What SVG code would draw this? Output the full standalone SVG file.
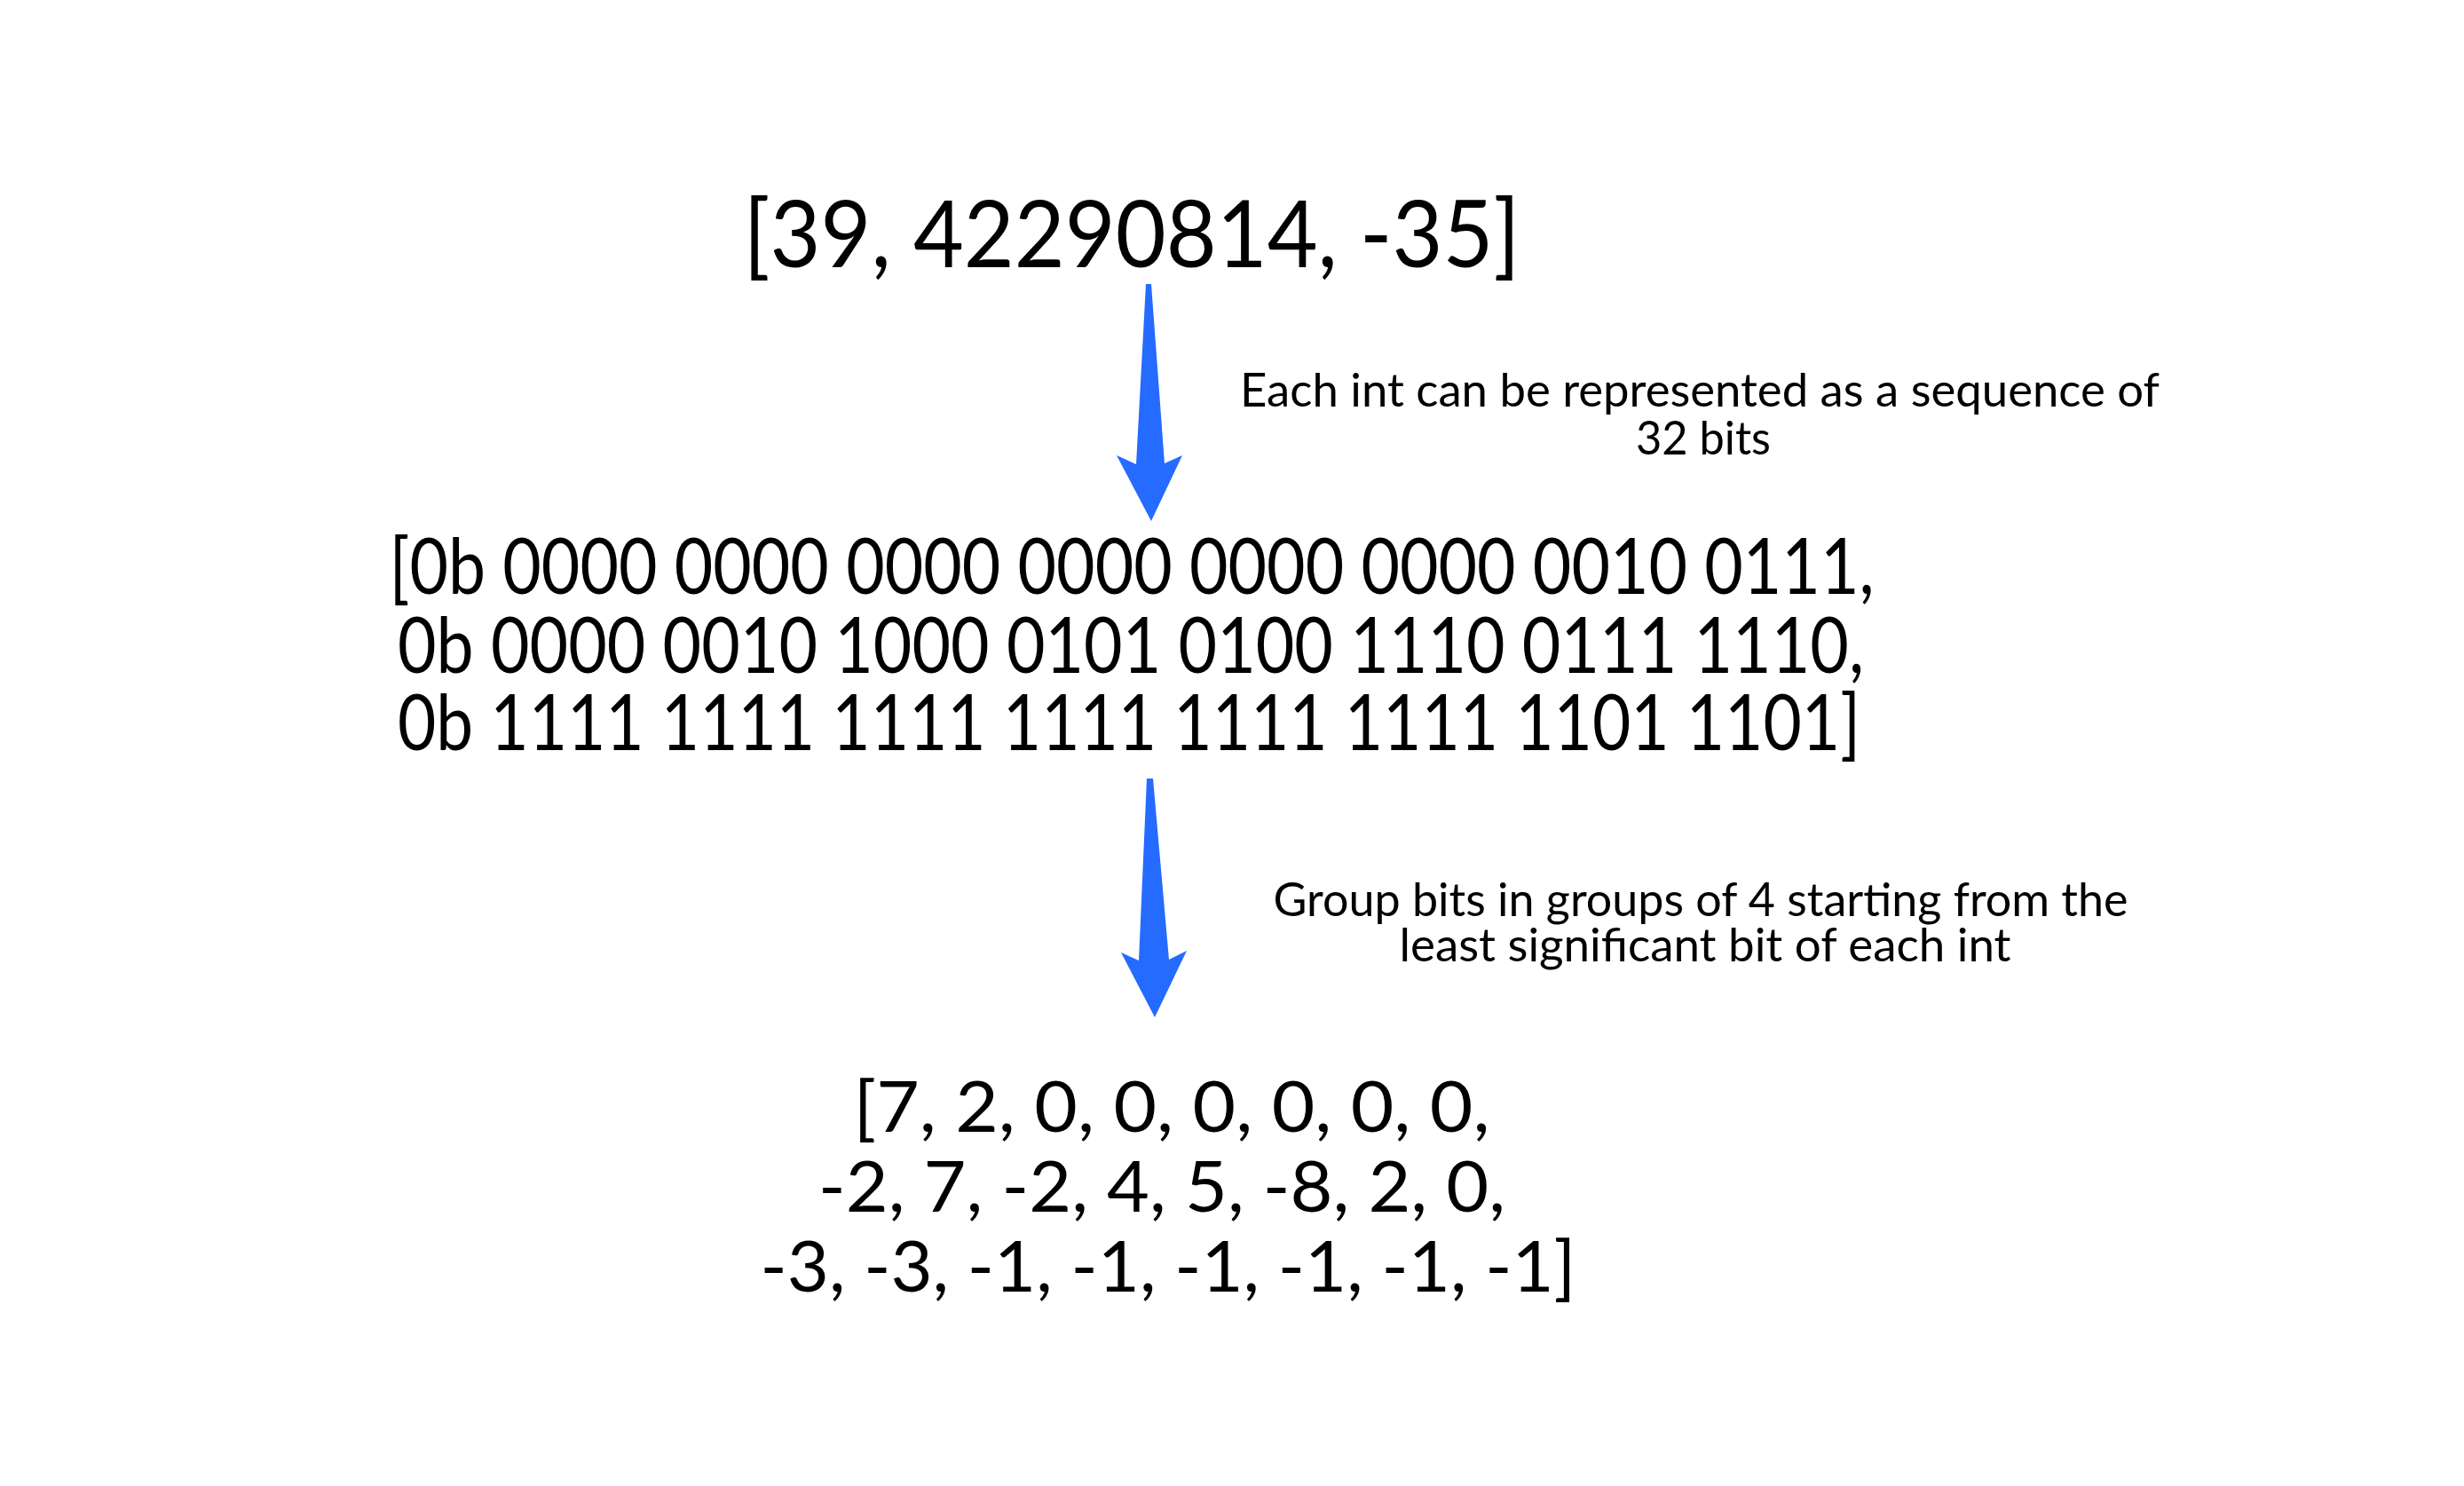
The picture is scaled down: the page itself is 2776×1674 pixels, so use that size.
<svg xmlns="http://www.w3.org/2000/svg" width="2776" height="1674" viewBox="0 0 2776 1674">
<style>
.t{font-family:Lato,"Noto Sans","Liberation Sans",sans-serif;fill:#000;text-anchor:middle}
.big{font-size:104px}
.mid{font-size:87px}
.lst{font-size:80px}
.note{font-size:52px}
.arr{fill:#256BFF}
</style>
<rect width="2776" height="1674" fill="#fff"/>
<g id="node-ints">
<text class="t big" x="1275" y="301" textLength="875" lengthAdjust="spacingAndGlyphs">[39, 42290814, -35]</text>
</g>
<g id="node-bits">
<text class="t mid" x="1275" y="669" textLength="1673" lengthAdjust="spacingAndGlyphs">[0b 0000 0000 0000 0000 0000 0000 0010 0111,</text>
<text class="t mid" x="1274" y="758" textLength="1652" lengthAdjust="spacingAndGlyphs">0b 0000 0010 1000 0101 0100 1110 0111 1110,</text>
<text class="t mid" x="1272" y="845" textLength="1648" lengthAdjust="spacingAndGlyphs">0b 1111 1111 1111 1111 1111 1111 1101 1101]</text>
</g>
<g id="node-groups">
<text class="t lst" x="1320" y="1275" textLength="717" lengthAdjust="spacingAndGlyphs">[7, 2, 0, 0, 0, 0, 0, 0,</text>
<text class="t lst" x="1309" y="1365" textLength="774" lengthAdjust="spacingAndGlyphs">-2, 7, -2, 4, 5, -8, 2, 0,</text>
<text class="t lst" x="1316" y="1455" textLength="919" lengthAdjust="spacingAndGlyphs">-3, -3, -1, -1, -1, -1, -1, -1]</text>
</g>
<g id="connectors">
<polygon class="arr" points="1291,320 1297,320 1312,522 1332,513 1297,587 1258,513 1280,523"/>
<polygon class="arr" points="1292,877 1299,877 1317,1081 1337,1071 1301,1146 1263,1073 1283,1082"/>
</g>
<g id="label-1">
<text class="t note" x="1915" y="458" textLength="1036" lengthAdjust="spacingAndGlyphs">Each int can be represented as a sequence of</text>
<text class="t note" x="1919" y="512" textLength="152" lengthAdjust="spacingAndGlyphs">32 bits</text>
</g>
<g id="label-2">
<text class="t note" x="1916" y="1032" textLength="963" lengthAdjust="spacingAndGlyphs">Group bits in groups of 4 starting from the</text>
<text class="t note" x="1921" y="1083" textLength="689" lengthAdjust="spacingAndGlyphs">least significant bit of each int</text>
</g>
</svg>
